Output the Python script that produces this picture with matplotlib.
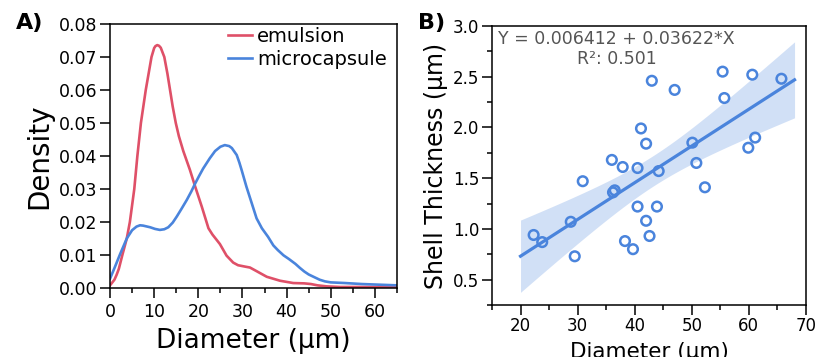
import matplotlib
matplotlib.use("Agg")
import matplotlib.pyplot as plt
import matplotlib.ticker as ticker
import numpy as np

# --- panel A: density curves ---
emulsion_x = [0, 1, 1.5, 2, 2.8, 3.8, 4.5, 5.5, 6.2, 7, 8.1, 9.4, 10, 10.3, 10.7, 11.1,
              11.5, 12.3, 13, 13.6, 14.2, 14.9, 15.6, 16.6, 18.1, 19.3, 20.8, 22.3,
              23.2, 24.2, 24.9, 26.4, 27.9, 29, 30.5, 31.7, 33.2, 35.5, 38.5, 41.5,
              44, 45.5, 47, 49, 52, 58, 65]
emulsion_y = [0.0008, 0.0025, 0.004, 0.0058, 0.01, 0.015, 0.02, 0.03, 0.04, 0.05, 0.06,
              0.07, 0.0727, 0.0733, 0.0736, 0.0734, 0.0728, 0.07, 0.065, 0.06, 0.055,
              0.05, 0.046, 0.0415, 0.0358, 0.0307, 0.0246, 0.0181, 0.0162, 0.0145,
              0.0133, 0.0098, 0.0077, 0.0069, 0.0065, 0.0062, 0.0051, 0.0034, 0.0022,
              0.0015, 0.0014, 0.0012, 0.0008, 0.0005, 0.0003, 0.0003, 0.0002]

micro_x = [0, 1, 2.3, 3.8, 5, 6, 6.8, 7.5, 9.1, 10.2, 11.3, 12.3, 13.2, 14.2, 15.1,
           16.2, 17.4, 18.4, 19.3, 20.2, 21.1, 22.6, 23.8, 25, 26, 27, 27.6, 28.7,
           29.3, 29.8, 30.9, 32.1, 33.2, 34.4, 35.8, 37, 38, 39.3, 40.5, 42, 43, 44,
           45, 46.4, 47.5, 48.7, 50, 53.2, 57, 61, 65]
micro_y = [0.0028, 0.006, 0.0103, 0.015, 0.0175, 0.0186, 0.019, 0.0189, 0.0184, 0.0179,
           0.0176, 0.0178, 0.0184, 0.0198, 0.0216, 0.024, 0.0267, 0.0292, 0.0317,
           0.034, 0.0362, 0.0393, 0.0415, 0.0428, 0.0433, 0.043, 0.0424, 0.0403,
           0.038, 0.0358, 0.0307, 0.0257, 0.0211, 0.0181, 0.0155, 0.0129, 0.0115,
           0.0099, 0.0088, 0.0073, 0.0061, 0.005, 0.0041, 0.0032, 0.0025, 0.002,
           0.0017, 0.0015, 0.0012, 0.001, 0.0008]

# --- panel B: shell thickness vs diameter ---
shell_d = [22.3, 23.8, 28.8, 29.5, 30.9, 36.0, 36.2, 36.5, 37.9, 38.3, 39.7, 40.5,
           40.5, 41.1, 42.0, 42.0, 42.6, 43.0, 43.9, 44.2, 47.0, 50.1, 50.8, 52.3,
           55.4, 55.7, 59.9, 61.1, 60.6, 65.7]
shell_t = [0.94, 0.87, 1.07, 0.73, 1.47, 1.68, 1.36, 1.38, 1.61, 0.88, 0.80, 1.60,
           1.22, 1.99, 1.84, 1.08, 0.93, 2.46, 1.22, 1.57, 2.37, 1.85, 1.65, 1.41,
           2.55, 2.29, 1.80, 1.90, 2.52, 2.48]
intercept = 0.006412
slope = 0.03622
r_squared = 0.501
fit_range = (20, 68)

red = "#DF5068"
blue = "#4A84DC"

plt.rcParams['font.family'] = ['DejaVu Sans']
plt.rcParams['axes.linewidth'] = 1.1

fig = plt.figure(figsize=(8.16, 3.57), dpi=100)

# ---------------- A ----------------
ax1 = fig.add_axes([0.1348, 0.1933, 0.3517, 0.7395])
ax1.plot(emulsion_x, emulsion_y, color=red, lw=1.9, label='emulsion')
ax1.plot(micro_x, micro_y, color=blue, lw=1.9, label='microcapsule')
ax1.set_xlim(0, 65)
ax1.set_ylim(0, 0.08)
ax1.xaxis.set_major_locator(ticker.MultipleLocator(10))
ax1.xaxis.set_minor_locator(ticker.MultipleLocator(5))
ax1.yaxis.set_major_locator(ticker.MultipleLocator(0.01))
ax1.yaxis.set_major_formatter(ticker.FormatStrFormatter('%.2f'))
ax1.tick_params(which='major', direction='out', length=7, width=1.1, labelsize=12.5, pad=2)
ax1.tick_params(axis='x', which='major', pad=4)
ax1.tick_params(which='minor', direction='out', length=3.5, width=1.1)
ax1.set_xlabel('Diameter (μm)', fontsize=19, labelpad=5)
ax1.set_ylabel('Density', fontsize=20, labelpad=4)
ax1.legend(loc='upper right', bbox_to_anchor=(0.975, 1.0), fontsize=14, frameon=False,
           handlelength=1.2, handletextpad=0.28, labelspacing=0.2,
           borderaxespad=0.0, borderpad=0.15)
fig.text(0.019, 0.935, 'A)', fontsize=16, fontweight='bold', va='center')

# ---------------- B ----------------
ax2 = fig.add_axes([0.6029, 0.1457, 0.3848, 0.7815])
xs = np.array(shell_d)
ys = np.array(shell_t)
n = len(xs)
fx = np.linspace(fit_range[0], fit_range[1], 100)
fy = intercept + slope * fx
resid = ys - (intercept + slope * xs)
s = np.sqrt(np.sum(resid ** 2) / (n - 2))
sxx = np.sum((xs - xs.mean()) ** 2)
se = s * np.sqrt(1 / n + (fx - xs.mean()) ** 2 / sxx)
t_val = 2.048
ax2.fill_between(fx, fy - t_val * se, fy + t_val * se, color=blue, alpha=0.25, lw=0)
ax2.plot(fx, fy, color=blue, lw=2.3)
ax2.scatter(xs, ys, s=48, facecolors='none', edgecolors=blue, linewidths=1.8, zorder=3)
ax2.set_xlim(15, 70)
ax2.set_ylim(0.25, 3.0)
ax2.xaxis.set_major_locator(ticker.MultipleLocator(10))
ax2.xaxis.set_minor_locator(ticker.MultipleLocator(5))
ax2.yaxis.set_major_locator(ticker.MultipleLocator(0.5))
ax2.yaxis.set_minor_locator(ticker.MultipleLocator(0.25))
ax2.yaxis.set_major_formatter(ticker.FormatStrFormatter('%.1f'))
ax2.tick_params(which='major', direction='out', length=7, width=1.1, labelsize=12, pad=2)
ax2.tick_params(which='minor', direction='out', length=3.5, width=1.1)
ax2.set_xlabel('Diameter (μm)', fontsize=15.5, labelpad=5)
ax2.set_ylabel('Shell Thickness (μm)', fontsize=17, labelpad=4)
ax2.text(0.02, 0.955, f'Y = {intercept} + {slope}*X', transform=ax2.transAxes,
         fontsize=12.5, color='#555555', va='center', ha='left')
ax2.text(0.27, 0.88, f'R²: {r_squared}', transform=ax2.transAxes,
         fontsize=12.5, color='#555555', va='center', ha='left')
fig.text(0.512, 0.935, 'B)', fontsize=16, fontweight='bold', va='center')

fig.savefig('out.png', dpi=100)
